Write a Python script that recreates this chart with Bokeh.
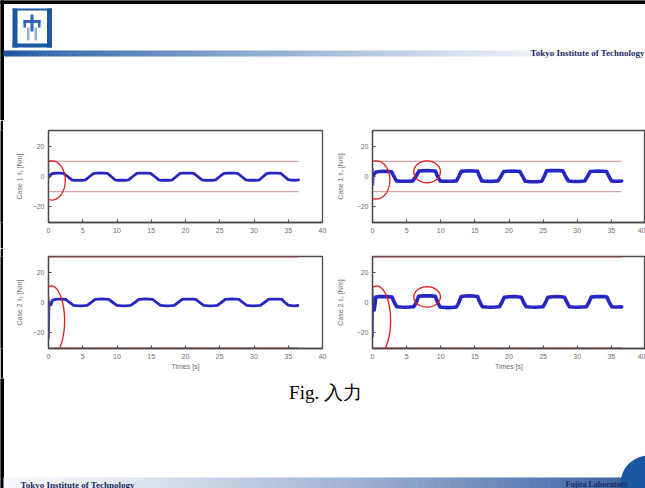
import math
from bokeh.plotting import figure
from bokeh.layouts import column, row
from bokeh.models import Range1d, FixedTicker, PolyAnnotation
from bokeh.embed import file_html
from bokeh.resources import INLINE
from bokeh.core.properties import value

SERIF = "Liberation Serif"
SANS = "Liberation Sans"

# ---------------- data ----------------
X_TICKS = [0, 5, 10, 15, 20, 25, 30, 35, 40]
Y_TICKS = [-20, 0, 20]
LIMIT_TOP = [10, -10]
LIMIT_BOTTOM = [30, -30]

YLABEL_TL = "Case 1 τ₁ [Nm]"
YLABEL_TR = "Case 1 τ₂ [Nm]"
YLABEL_BL = "Case 2 τ₁ [Nm]"
YLABEL_BR = "Case 2 τ₂ [Nm]"
XLABEL = "Times [s]"
CAPTION = "Fig. 入力"

TL_T = [0, 0.3, 0.6, 1.2, 1.7, 2.2, 2.8, 3.4, 3.9, 4.4, 4.9, 5.4, 6.0, 6.6, 7.1, 7.6, 8.1, 8.6,
        9.15, 9.7, 10.2, 10.7, 11.2, 11.7, 12.3, 12.9, 13.4, 13.9, 14.4, 14.9, 15.5, 16.1, 16.6,
        17.1, 17.6, 18.1, 18.65, 19.2, 19.7, 20.2, 20.7, 21.2, 21.8, 22.4, 22.9, 23.4, 23.9, 24.4,
        25.0, 25.6, 26.1, 26.6, 27.1, 27.6, 28.2, 28.8, 29.3, 29.8, 30.3, 30.8, 31.35, 31.9, 32.4,
        32.9, 33.4, 33.9, 34.45, 35.0, 35.5, 36.0, 36.5]
TL_Y = [-0.7, 1.2, 2.0, 2.3, 2.3, 2.1, 0, -2.2, -2.5, -2.6, -2.5, -2.2, 0, 2.1, 2.3, 2.4, 2.3, 2.1,
        0, -2.2, -2.5, -2.5, -2.5, -2.2, 0, 2.1, 2.3, 2.3, 2.3, 2.1, 0, -2.2, -2.5, -2.5, -2.5, -2.2,
        0, 2.1, 2.3, 2.3, 2.3, 2.1, 0, -2.2, -2.5, -2.6, -2.5, -2.2, 0, 2.1, 2.3, 2.3, 2.3, 2.1,
        0, -2.2, -2.5, -2.5, -2.5, -2.2, 0, 2.1, 2.3, 2.3, 2.3, 2.1, 0, -2.1, -2.4, -2.5, -2.3]

TR_T = [0, 0.08, 0.15, 0.25, 0.5, 1.0, 1.6, 2.2, 2.8, 3.15, 3.5, 4.1, 4.7, 5.3, 5.9, 6.35, 6.8,
        7.4, 8.0, 8.6, 9.2, 9.55, 9.9, 10.5, 11.1, 11.7, 12.3, 12.65, 13.0, 13.6, 14.2, 14.8, 15.4,
        15.7, 16.0, 16.6, 17.2, 17.8, 18.4, 18.8, 19.2, 19.8, 20.4, 21.0, 21.6, 22.0, 22.4, 23.0,
        23.6, 24.2, 24.8, 25.15, 25.5, 26.1, 26.7, 27.3, 27.9, 28.3, 28.7, 29.3, 29.9, 30.5, 31.1,
        31.5, 31.9, 32.5, 33.1, 33.7, 34.3, 34.65, 35.0, 35.5, 36.0, 36.5]
TR_Y = [0, 5.5, -6.0, 1.5,
        3.0, 3.3, 3.4, 3.3, 3.1, 0, -2.9, -3.1, -3.1, -3.1, -2.9, 0,
        3.6, 3.8, 3.9, 3.8, 3.6, 0, -2.9, -3.1, -3.1, -3.1, -2.9, 0,
        3.4, 3.6, 3.7, 3.6, 3.4, 0, -2.9, -3.1, -3.2, -3.1, -2.9, 0,
        3.3, 3.5, 3.6, 3.5, 3.3, 0, -3.2, -3.4, -3.5, -3.4, -3.2, 0,
        3.7, 3.9, 4.0, 3.9, 3.7, 0, -3.0, -3.2, -3.3, -3.2, -3.0, 0,
        3.3, 3.5, 3.6, 3.5, 3.3, 0, -2.9, -3.1, -3.1, -3.0]

BL_T = [0, 0.05, 0.1, 0.2, 0.35, 0.6, 1.0, 1.5, 2.0, 2.5, 3.08, 3.65, 4.15, 4.65, 5.15, 5.65,
        6.22, 6.8, 7.3, 7.8, 8.3, 8.8, 9.4, 10.0, 10.5, 11.0, 11.5, 12.0, 12.6, 13.2, 13.7, 14.2,
        14.7, 15.2, 15.78, 16.35, 16.85, 17.35, 17.85, 18.35, 18.92, 19.5, 20.0, 20.5, 21.0, 21.5,
        22.08, 22.65, 23.15, 23.65, 24.15, 24.65, 25.22, 25.8, 26.3, 26.8, 27.3, 27.8, 28.38,
        28.95, 29.45, 29.95, 30.45, 30.95, 31.52, 32.1, 32.6, 33.1, 33.6, 34.1, 34.5, 35.0, 35.5,
        36.0, 36.4]
BL_Y = [0, 3.5, -24.0, 1.0, -1.5,
        1.6, 2.1, 2.3, 2.2, 2.0, 0, -1.9, -2.1, -2.2, -2.1, -1.9, 0,
        2.0, 2.3, 2.4, 2.3, 2.0, 0, -1.9, -2.1, -2.2, -2.1, -1.9, 0,
        2.0, 2.3, 2.4, 2.3, 2.0, 0, -1.9, -2.1, -2.2, -2.1, -1.9, 0,
        2.0, 2.3, 2.3, 2.3, 2.0, 0, -1.9, -2.1, -2.2, -2.1, -1.9, 0,
        2.0, 2.3, 2.4, 2.3, 2.0, 0, -1.9, -2.1, -2.2, -2.1, -1.9, 0,
        2.0, 2.3, 2.3, 2.3, 2.0, 0, -1.8, -2.1, -2.2, -2.0]

BR_T = [0, 0.05, 0.1, 0.15, 0.25,
        0.5, 1.0, 1.6, 2.2, 2.85, 3.2, 3.55, 4.2, 4.8, 5.4, 6.05, 6.4,
        6.75, 7.4, 8.0, 8.6, 9.2, 9.55, 9.9, 10.5, 11.1, 11.7, 12.3, 12.65,
        13.0, 13.6, 14.2, 14.8, 15.4, 15.75, 16.1, 16.7, 17.3, 17.9, 18.6, 18.95,
        19.3, 20.0, 20.6, 21.2, 21.8, 22.15, 22.5, 23.1, 23.7, 24.3, 25.0, 25.35,
        25.7, 26.4, 27.0, 27.6, 28.15, 28.5, 28.85, 29.4, 30.0, 30.6, 31.35, 31.7,
        32.05, 32.8, 33.4, 34.0, 34.35, 34.7, 35.05, 35.5, 36.0, 36.5]
BR_Y = [0, 9.0, -23.0, 4.0, -5.0,
        3.6, 3.9, 4.0, 3.9, 3.6, 0, -2.8, -3.0, -3.1, -3.0, -2.8, 0,
        4.1, 4.4, 4.5, 4.4, 4.1, 0, -3.0, -3.3, -3.4, -3.3, -3.0, 0,
        4.0, 4.3, 4.4, 4.3, 4.0, 0, -2.8, -3.0, -3.1, -3.0, -2.8, 0,
        3.5, 3.8, 3.9, 3.8, 3.5, 0, -2.8, -3.0, -3.1, -3.0, -2.8, 0,
        3.5, 3.8, 3.9, 3.8, 3.5, 0, -2.8, -3.0, -3.1, -3.0, -2.8, 0,
        3.6, 3.9, 4.0, 3.9, 3.6, 0, -2.8, -3.0, -3.0, -2.9]

# red hand-drawn circles (centre x, centre y, width, height) in data units
CIRCLES_TL = [(0.5, -2.6, 3.9, 26.0)]
CIRCLES_TR = [(0.55, -2.3, 4.0, 25.4), (8.0, 3.1, 3.9, 14.5)]
CIRCLES_BL = [(0.4, -12.1, 3.9, 46.3)]
CIRCLES_BR = [(0.6, -12.1, 4.1, 46.3), (8.0, 3.7, 3.9, 13.5)]

LINE_BLUE = "#2626c4"
NAVY = "#1a2b5c"
LOGO_BLUE = "#1b58a4"
FRAME = "#4a4a4a"


def deco_fig(w, h, y_top, y_bottom):
    p = figure(width=w, height=h, x_range=Range1d(0, w), y_range=Range1d(y_bottom, y_top),
               output_backend="svg", toolbar_location=None,
               x_axis_location=None, y_axis_location=None, min_border=0)
    p.outline_line_color = None
    p.grid.visible = False
    p.background_fill_color = "white"
    p.border_fill_color = "white"
    return p


def lerp_color(c0, c1, f):
    return "#%02x%02x%02x" % tuple(int(round(a + (b - a) * f)) for a, b in zip(c0, c1))


# ---------------- header ----------------
header = deco_fig(645, 120, 0, 120)
header.quad(left=[0], right=[645], top=[0], bottom=[3], color="black")
header.quad(left=[0], right=[3], top=[0], bottom=[120], color="black")
n = 140
x0, x1 = 3, 560
lefts, rights, cols = [], [], []
for i in range(n):
    a = x0 + (x1 - x0) * i / n
    b = x0 + (x1 - x0) * (i + 1) / n + 0.5
    f = (i / (n - 1)) ** 0.8
    lefts.append(a); rights.append(b)
    cols.append(lerp_color((26, 84, 158), (246, 247, 251), f))
header.quad(left=lefts, right=rights, top=[50] * n, bottom=[56] * n, color=cols, line_color=None)
# logo
header.quad(left=[12, 46.5, 12, 12], right=[17, 51.5, 51.5, 51.5], top=[8, 8, 8, 43],
            bottom=[47, 47, 10, 47], color=LOGO_BLUE, line_color=None)
header.quad(left=[30, 23, 23, 37.5], right=[33, 40, 25.5, 40], top=[14, 19.5, 19.5, 19.5],
            bottom=[31, 22.5, 27, 27], color="#2b66b0", line_color=None)
header.quad(left=[26.5, 34], right=[29, 36.5], top=[27, 27], bottom=[40, 40],
            color="#8fb0da", line_color=None)
header.text(x=[530], y=[52.5], text=["Tokyo Institute of Technology"], text_font=value(SERIF),
            text_font_style="bold", text_font_size="9px", text_color=NAVY,
            text_baseline="middle", text_align="left")


# ---------------- subplots ----------------
def subplot(w, h, bl, br, bt, bb, T, Y, lim, lim_color, ylabel, xlabel, lw, circles,
            label_standoff, spike_n):
    p = figure(width=w, height=h, x_range=Range1d(0, 40), y_range=Range1d(-30.5, 30.5),
               output_backend="svg", toolbar_location=None,
               min_border_left=bl, min_border_right=br, min_border_top=bt, min_border_bottom=bb)
    p.background_fill_color = "white"
    p.border_fill_color = "white"
    p.outline_line_color = FRAME
    p.outline_line_width = 1.3
    p.grid.visible = False
    p.xaxis.ticker = FixedTicker(ticks=X_TICKS, minor_ticks=[])
    p.yaxis.ticker = FixedTicker(ticks=Y_TICKS, minor_ticks=[])
    for ax in (p.xaxis[0], p.yaxis[0]):
        ax.axis_line_color = FRAME
        ax.axis_line_width = 1.3
        ax.major_tick_in = 3
        ax.major_tick_out = 0
        ax.major_tick_line_color = FRAME
        ax.minor_tick_in = 0
        ax.minor_tick_out = 0
        ax.major_label_text_font = SANS
        ax.major_label_text_font_size = "7px"
        ax.major_label_text_color = "#6e6e6e"
        ax.axis_label_text_font = SANS
        ax.axis_label_text_font_size = "7px"
        ax.axis_label_text_font_style = "normal"
        ax.axis_label_text_color = "#6e6e6e"
    p.xaxis.major_label_standoff = 5
    p.yaxis.major_label_standoff = 4
    p.yaxis.axis_label = ylabel
    p.yaxis.axis_label_standoff = label_standoff
    if xlabel:
        p.xaxis.axis_label = xlabel
        p.xaxis.axis_label_standoff = 1
    for lv in lim:
        p.line([T[0], T[-1]], [lv, lv], line_color=lim_color, line_width=1.2)
    p.line(T[:spike_n + 1], Y[:spike_n + 1], line_color=LINE_BLUE, line_width=1.2, line_alpha=0.8)
    p.line(T[spike_n:], Y[spike_n:], line_color=LINE_BLUE, line_width=lw, line_join="round",
           line_cap="round")
    for (cx, cy, cw, ch) in circles:
        xs = [cx + cw / 2 * math.cos(2 * math.pi * k / 60) for k in range(60)]
        ys = [cy + ch / 2 * math.sin(2 * math.pi * k / 60) for k in range(60)]
        p.add_layout(PolyAnnotation(xs=xs, ys=ys, fill_color=None, fill_alpha=0,
                                    line_color="#e01c1c", line_alpha=1.0, line_width=1.3))
    return p


def strip(h):
    s = figure(width=3, height=h, x_range=Range1d(0, 1), y_range=Range1d(0, 1),
               output_backend="svg", toolbar_location=None,
               x_axis_location=None, y_axis_location=None, min_border=0)
    s.outline_line_color = None
    s.grid.visible = False
    s.background_fill_color = "black"
    s.border_fill_color = "black"
    return s


tl = subplot(327, 128, 45, 8, 10, 26, TL_T, TL_Y, LIMIT_TOP, "#dba4a4", YLABEL_TL, None, 2.8,
             CIRCLES_TL, 7, 0)
tr = subplot(315, 128, 42, 0, 10, 26, TR_T, TR_Y, LIMIT_TOP, "#dba4a4", YLABEL_TR, None, 3.6,
             CIRCLES_TR, 10, 3)
bl = subplot(327, 130, 45, 8, 8, 30, BL_T, BL_Y, LIMIT_BOTTOM, "#e07878", YLABEL_BL, XLABEL, 2.8,
             CIRCLES_BL, 7, 4)
br = subplot(315, 130, 42, 0, 8, 30, BR_T, BR_Y, LIMIT_BOTTOM, "#e07878", YLABEL_BR, XLABEL, 3.6,
             CIRCLES_BR, 10, 4)

# ---------------- footer ----------------
footer = deco_fig(645, 110, 378, 488)
footer.quad(left=[0], right=[3], top=[378], bottom=[488], color="black")
n = 140
lefts, rights, cols = [], [], []
for i in range(n):
    a = 3 + 642 * i / n
    b = 3 + 642 * (i + 1) / n + 0.5
    f = (i / (n - 1)) ** 1.3
    lefts.append(a); rights.append(b)
    cols.append(lerp_color((246, 247, 251), (52, 92, 158), f))
footer.quad(left=lefts, right=rights, top=[477] * n, bottom=[488] * n, color=cols, line_color=None)
footer.circle(x=[648], y=[483], radius=28, color=LOGO_BLUE, line_color=None)
footer.text(x=[325], y=[392], text=[CAPTION], text_font=value(SERIF), text_font_size="19px",
            text_color="black", text_align="center", text_baseline="middle")
footer.text(x=[20], y=[484], text=["Tokyo Institute of Technology"], text_font=value(SERIF),
            text_font_style="bold", text_font_size="9px", text_color=NAVY,
            text_baseline="middle", text_align="left")
footer.text(x=[565], y=[484], text=["Fujita Laboratory"], text_font=value(SERIF),
            text_font_style="bold", text_font_size="8px", text_color=NAVY,
            text_baseline="middle", text_align="left")

layout = column(header, row(strip(128), tl, tr), row(strip(130), bl, br), footer)

open("out.html", "w").write(file_html(layout, INLINE))
